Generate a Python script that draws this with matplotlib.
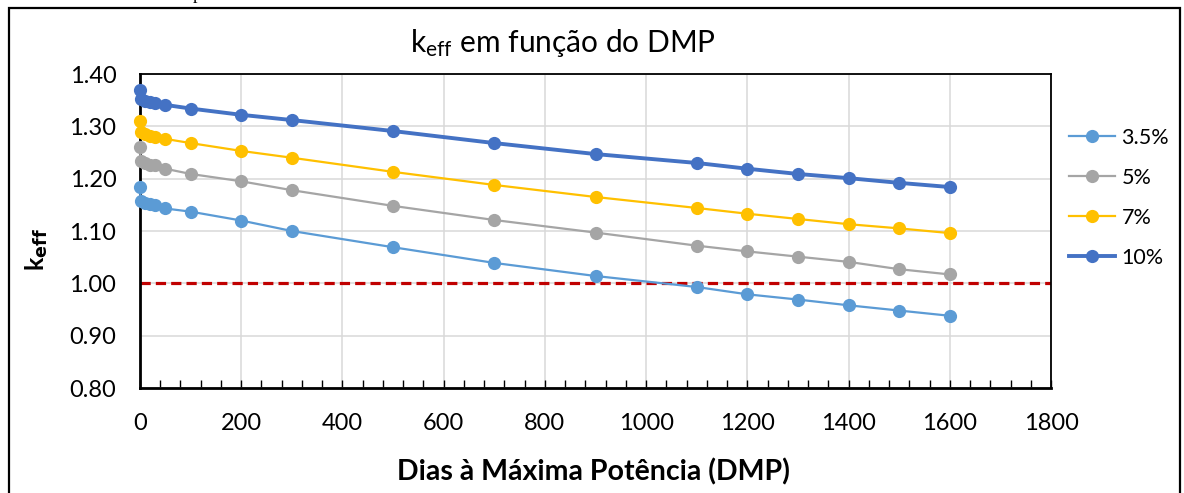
import matplotlib
matplotlib.use("Agg")
import matplotlib.pyplot as plt
from matplotlib.patches import Rectangle
from matplotlib.ticker import MultipleLocator, FormatStrFormatter

plt.rcParams['font.family'] = ['Lato', 'DejaVu Sans']
plt.rcParams['mathtext.default'] = 'regular'

# Burnup days (DMP) and k_eff for each enrichment
dias = [0, 1, 10, 20, 30, 50, 100, 200, 300, 500, 700, 900,
        1100, 1200, 1300, 1400, 1500, 1600]
keff_35 = [1.185, 1.158, 1.153, 1.151, 1.150, 1.143, 1.137, 1.120, 1.100,
           1.069, 1.039, 1.014, 0.993, 0.979, 0.969, 0.958, 0.948, 0.938]
keff_5 = [1.260, 1.233, 1.229, 1.227, 1.226, 1.219, 1.209, 1.195, 1.178,
          1.148, 1.121, 1.097, 1.072, 1.061, 1.051, 1.041, 1.027, 1.017]
keff_7 = [1.310, 1.290, 1.285, 1.282, 1.280, 1.276, 1.268, 1.253, 1.240,
          1.213, 1.188, 1.165, 1.144, 1.133, 1.123, 1.113, 1.105, 1.096]
keff_10 = [1.369, 1.352, 1.348, 1.346, 1.344, 1.341, 1.334, 1.322, 1.312,
           1.291, 1.268, 1.247, 1.230, 1.219, 1.209, 1.201, 1.192, 1.184]
labels = ['3.5%', '5%', '7%', '10%']
critico = 1.00

W, H = 1184, 493
fig = plt.figure(figsize=(W / 100, H / 100), dpi=100)
ax = fig.add_axes([140 / W, 1 - 388 / H, (1051 - 140) / W, (388 - 74) / H])

series = [
    (keff_35, '#5B9BD5', 1.6),
    (keff_5, '#A5A5A5', 1.6),
    (keff_7, '#FFC000', 1.6),
    (keff_10, '#4472C4', 2.8),
]
for (vals, color, lw), lab in zip(series, labels):
    ax.plot(dias, vals, color=color, lw=lw, marker='o', markersize=9.5,
            markeredgewidth=0, label=lab, zorder=3, clip_on=False)

ax.axhline(critico, color='#C00000', lw=2.3, ls=(0, (3.2, 1.6)), zorder=2)

ax.set_xlim(0, 1800)
ax.set_ylim(0.80, 1.40)
ax.xaxis.set_major_locator(MultipleLocator(200))
ax.xaxis.set_minor_locator(MultipleLocator(40))
ax.yaxis.set_major_locator(MultipleLocator(0.10))
ax.yaxis.set_major_formatter(FormatStrFormatter('%.2f'))
ax.grid(True, which='major', color='#D9D9D9', lw=1.1, zorder=0)
ax.set_axisbelow(True)

ax.tick_params(axis='x', which='both', direction='in', length=6, width=1,
               pad=18, labelsize=17, colors='black', top=False)
ax.tick_params(axis='y', which='both', length=0, pad=17, labelsize=17)
for s in ax.spines.values():
    s.set_color('black')
    s.set_linewidth(1.3)
ax.spines['left'].set_linewidth(2)
ax.spines['bottom'].set_linewidth(2)

fig.text(563 / W, 1 - 43 / H, r'k$_{eff}$ em função do DMP',
         ha='center', va='center', fontsize=21.5)
fig.text(37 / W, 1 - 250 / H, r'k$_{\mathbf{eff}}$', rotation=90,
         ha='center', va='center', fontsize=18, fontweight='bold')
fig.text(593 / W, 1 - 472 / H, 'Dias à Máxima Potência (DMP)',
         ha='center', va='center', fontsize=20.5, fontweight='bold')

ax.legend(loc='upper left', bbox_to_anchor=(1058 / W, 1 - 117 / H),
          bbox_transform=fig.transFigure, frameon=False, fontsize=15.5,
          handlelength=2.13, handletextpad=0.32, labelspacing=0.93,
          borderpad=0)

# chart frame
fig.add_artist(Rectangle((9 / W, -0.1), (1180 - 9) / W, 1.1 - 8 / H,
                         transform=fig.transFigure, fill=False,
                         edgecolor='black', lw=1.6, clip_on=False))
fig.text(197 / W, 1 + 1 / H, 'p', family='Liberation Serif', fontsize=13,
         ha='center', va='baseline')

fig.savefig('out.png', dpi=100)
